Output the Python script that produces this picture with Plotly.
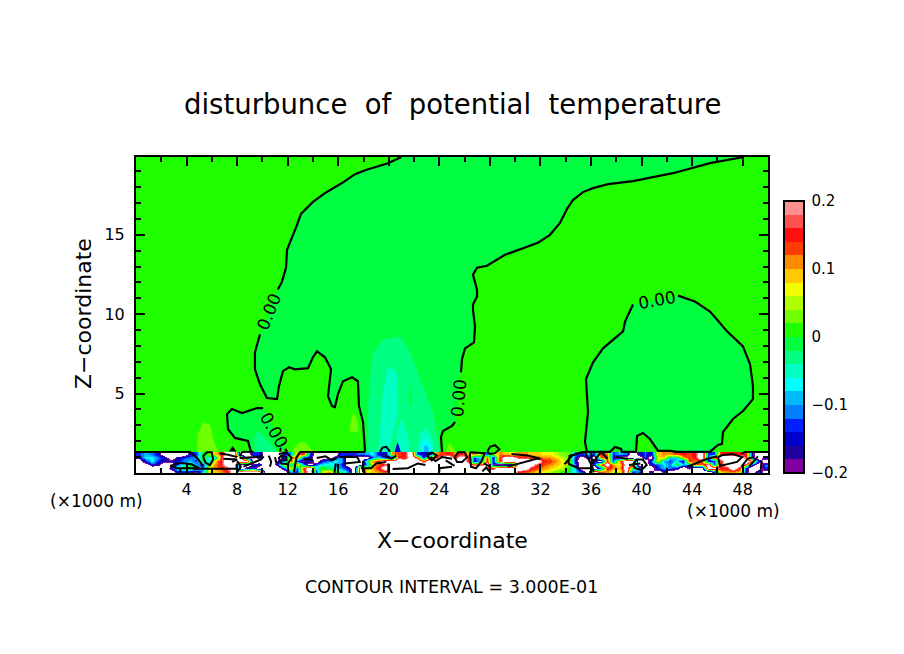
import plotly.graph_objects as go

# level colours, bottom of the colour bar to the top
level_colors = ['#8000A0', '#2000A0', '#0000CC', '#0020FF', '#0080FF', '#00BAFF', '#00FFFF', '#00FFC0',
                '#00FF80', '#00FF40', '#20FF00', '#70FF00', '#B0FF00', '#F0FF00', '#FFC800', '#FF8C00',
                '#FF3C00', '#FF1010', '#FF5050', '#FF9090']
level_codes = '0123456789ABCDEFGHIJ'

# near surface band, one character per 0.5 km cell, top row first, w = out of range (white)
band_rows = [
    '3542wwww239BEGwwww33 www25FH3wwww33345621 FGHw321FGHFHEFC3CFED FFEEDDCBB4353HF354w1 41EFFGHGHw33HHHHH1ww',
    '26642w1344A65Hwwwww3 www3GH21www35wwww461 wHGwH1GHwwHwH36H0Hww HHGGFFECB3w3wGH1wwww 3wDE65FGHw3HwwwwH1w3',
    'w36311245396EHwwwwww ww14H203w3465www9FHw wwwwwHwwwwwwH25H2Hww wwwwHGFDC2ww3wH3Fwww w3D5361HFH13HwwwwH2w',
    'ww31ww36852BFHwwww13 ww3G5H4w46753www5EGH wwwwwwwwwwwwwHHw0www wwwHGFEDB4ww2HwFDwww w2364A64HFw3HwwwH3w4',
    'wwwww27AA73DFGIww13w www4F3Hw6A8642wwBFHw wwwwwwwwwwwwwwwHHwww wwHGFEDCA5www3HFEwA6 ww3542w1wwwwHHwH2ww3',
    'wwwwww22105DEFHwwwww wwww52Gw3DFB84wwDEFG wwwwwwwwwwwwwwwwwwww HGFEDCBA963wwGFDCw34 w2w1wwwwwww2EFFE1w3w',
]

# zero contours, km
upper_a_x = [21.0, 19.94, 18.12, 17.33, 16.3, 14.95, 14.0, 13.05, 12.74, 12.26, 11.95, 11.87, 11.55, 11.23]
upper_a_y = [19.9, 19.51, 19.07, 18.82, 18.26, 17.63, 17.07, 16.32, 15.62, 14.69, 14.06, 12.93, 12.05, 11.55]
lower_a_x = [9.81, 9.41, 9.41, 9.81, 10.36, 11.16, 11.31, 11.63, 12.1, 12.58, 13.61, 14.0, 14.32, 14.95, 15.43,
             15.19, 15.51, 15.74, 15.98, 16.38, 17.09, 17.56, 17.64, 17.96, 18.12]
lower_a_y = [8.73, 7.6, 6.53, 5.59, 4.72, 4.65, 5.47, 6.41, 6.66, 6.53, 6.6, 7.29, 7.66, 7.29, 6.53,
             4.84, 4.21, 4.15, 4.97, 5.78, 6.03, 5.78, 4.21, 3.21, 1.33]
upper_b_x = [48.1, 45.41, 42.48, 39.32, 37.34, 36.16, 35.36, 34.57, 34.1, 33.54, 32.75, 31.8, 29.19, 27.77, 26.98,
             26.66, 26.98, 26.98, 26.66, 26.66, 26.82, 26.74, 26.03, 25.79, 25.71]
upper_b_y = [19.9, 19.51, 18.88, 18.38, 18.19, 17.94, 17.69, 17.19, 16.63, 15.75, 15.0, 14.5, 13.74, 13.05, 12.93,
             12.49, 11.55, 11.11, 10.61, 10.29, 9.23, 8.23, 7.85, 7.16, 6.34]
lower_b_x = [25.24, 25.0, 24.29, 24.13, 24.21]
lower_b_y = [3.21, 2.96, 2.65, 2.27, 1.33]
loop_x = [10.05, 9.57, 8.39, 7.59, 7.2, 7.28, 7.83, 8.86, 9.1]
loop_y = [4.09, 4.09, 3.77, 4.03, 3.71, 2.77, 2.21, 2.02, 1.33]
loop_end_x = [11.8, 11.95]
loop_end_y = [1.52, 1.33]
dome_left_x = [39.32, 38.69, 38.53, 36.95, 36.16, 35.6, 35.68, 35.76, 35.52, 35.68, 37.5, 37.9, 38.37, 38.45, 39.56,
               39.64, 40.11, 40.66, 41.3, 42.25, 42.8, 45.41, 46.04, 46.36, 46.44, 47.23, 48.02, 48.81, 48.81,
               48.58, 48.02, 46.76, 45.96, 45.41, 44.22, 42.88]
dome_left_y = [10.61, 9.54, 8.92, 7.85, 6.97, 5.91, 4.84, 3.84, 1.96, 1.33, 1.33, 1.64, 1.52, 1.33, 1.33,
               2.33, 2.52, 2.14, 1.39, 1.39, 1.33, 1.33, 1.77, 1.83, 2.58, 3.4, 3.9, 4.65, 5.47,
               6.85, 7.97, 8.92, 9.67, 10.17, 10.8, 11.17]

# shaded patches above the band, km
plume_x = [19.54, 20.89, 21.68, 22.47, 23.5, 23.89, 24.05, 18.28, 18.35, 18.51, 18.75]
plume_y = [8.41, 8.6, 7.66, 5.91, 3.84, 2.14, 1.33, 1.33, 4.21, 5.91, 7.6]
streak1_x = [19.54, 19.86, 20.09, 20.65, 20.73, 20.25, 19.94, 19.15, 19.38]
streak1_y = [5.09, 6.53, 6.72, 6.22, 3.84, 2.14, 1.33, 1.33, 3.4]
streak2_x = [21.04, 21.5, 21.68, 20.6, 20.65]
streak2_y = [3.4, 2.33, 1.33, 1.33, 2.77]
streak3_x = [23.02, 23.42, 23.65, 22.23, 22.47]
streak3_y = [2.83, 2.14, 1.33, 1.33, 2.46]
cyan_x = [22.86, 23.34, 23.4, 22.63, 22.55]
cyan_y = [2.2, 1.7, 1.33, 1.33, 1.83]
sky_x = [22.8, 22.75, 23.1, 23.2]
sky_y = [1.33, 1.7, 1.75, 1.33]
spike_x = [20.45, 20.7, 20.95]
spike_y = [1.33, 1.95, 1.33]
plume_gap_x = [21.6, 21.7, 21.85, 21.75]
plume_gap_y = [4.4, 5.6, 4.6, 4.2]
warm1_x = [4.83, 4.9, 5.3, 5.85, 6.09, 6.49]
warm1_y = [1.33, 2.46, 3.15, 3.08, 2.14, 1.33]
warm2_x = [16.9, 17.0, 17.2, 17.5, 17.6, 17.3]
warm2_y = [2.6, 3.3, 3.8, 3.4, 2.6, 2.6]
warm3_x = [12.3, 12.8, 13.3, 13.8, 14.1]
warm3_y = [1.33, 1.85, 1.95, 1.6, 1.33]
warm4_x = [24.5, 24.8, 25.3]
warm4_y = [1.33, 1.9, 1.33]
loop_patch_x = [9.57, 10.2, 11.16, 9.41, 9.34]
loop_patch_y = [2.65, 2.33, 1.33, 1.33, 2.14]
dome_patch_x = [44.3, 44.6, 45.0]
dome_patch_y = [1.33, 1.65, 1.33]
blob_x = [7.35, 7.65, 7.95]
blob_y = [1.35, 1.7, 1.35]

# contour scribble inside the band, None breaks the line
band_lines_x = [0, 4.27, 4.9, 5.3, None, 5.3, 5.6, 6.0, 6.1, 5.85, 5.5, 5.3, None, 2.7, 3.5, 4.4, 5.0, 4.4, 3.2, 2.7, None,
                3.5, 3.5, None, 4.5, 8.0, None, 8.4, 9.3, None, 8.4, 8.2, None, 6.6, 7.3, 8.0, None, 6.9, 8.0, 7.6, None,
                8.2, 9.5, 10.0, None, 8.5, 9.2, 9.9, 10.1, None, 8.0, 8.3, 8.0, None, 10.5, 10.7, 10.6, None, 11.0, 11.1, None,
                11.3, 11.9, 12.3, 12.0, 11.5, 11.3, 11.5, 11.9, 11.9, 11.6, None, 11.4, 11.45, None,
                12.5, 12.6, 12.7, 13.0, 13.5, 18.12, None, 13.3, 14.0, None, 14.3, 15.0, 15.5, 15.9, None,
                16.1, 17.5, 17.7, 16.5, None, 15.7, 15.8, None, 17.8, 18.6, 19.0, 19.8, None, 17.96, 17.96, None,
                19.96, 19.96, None, 19.7, 20.2, 20.6, None, 20.3, 21.5, 22.3, 22.9, None, 23.3, 23.7, 24.2, 25.0, None,
                24.0, 24.0, 25.0, None, 24.5, 25.2, None, 27.4, 27.7, 28.0, None, 28.0, 27.5, None,
                29.4, 31.7, 32.0, 31.0, 29.7, None, 33.9, 34.5, 35.3, 36.3, None,
                34.2, 34.3, 35.5, 36.1, 36.2, None, 34.2, 35.0, 36.1, None, 36.0, 36.1, 36.8, 37.3, None,
                38.0, 38.9, None, 39.0, 39.9, None, 39.3, 39.6, 40.1, 40.4, 40.0, 39.5, 39.3, None,
                43.6, 45.2, 46.0, None, 46.05, 46.2, 47.55, 47.95, 47.2, 46.45, 46.05, None,
                47.9, 48.4, 48.9, None, 48.5, 49.2, None, 49.4, 49.5, None, 45.9, 46.0, None, 47.9, 48.2, 50.0, None,
                19.3, 19.5, 19.8, 20.1, None, 27.8, 28.0, 28.4, 28.75, 28.4, 28.0, 27.8, None,
                25.2, 25.5, 26.0, 26.2, 25.8, 25.4, 25.2, None, 26.4, 27.6, 27.3, 26.9, 26.5, 26.4, 26.4, None,
                23.0, 23.4, 23.8, 23.4, 23.0]
band_lines_y = [1.33, 1.33, 0.89, 0.45, None, 1.05, 1.3, 1.3, 0.85, 0.5, 0.65, 1.05, None, 0.45, 0.65, 0.55, 0.3, 0.3, 0.3, 0.45, None,
                0.3, 0.05, None, 0.26, 0.26, None, 1.33, 1.33, None, 1.33, 1.05, None, 1.25, 1.15, 1.0, None, 0.9, 0.85, 0.7, None,
                0.95, 1.0, 1.1, None, 0.4, 0.6, 0.85, 1.05, None, 0.75, 0.4, 0.05, None, 1.1, 0.7, 0.4, None, 1.0, 0.6, None,
                1.2, 1.3, 0.95, 0.55, 0.6, 0.95, 1.1, 1.0, 0.8, 0.85, None, 1.33, 1.6, None,
                0.05, 0.5, 1.0, 1.33, 1.33, 1.33, None, 0.9, 0.8, None, 0.95, 1.05, 0.8, 0.95, None,
                1.0, 1.0, 0.7, 0.6, None, 0.0, 0.6, None, 0.3, 0.3, 0.6, 0.7, None, 0.76, 0.05, None,
                0.6, 0.05, None, 1.1, 0.9, 1.1, None, 0.25, 0.3, 0.6, 0.5, None, 1.0, 0.75, 1.0, 0.9, None,
                0.05, 0.3, 0.4, None, 0.8, 0.45, None, 0.1, 0.35, 0.05, None, 0.4, 0.6, None,
                0.4, 0.9, 0.9, 1.1, 1.2, None, 0.55, 1.1, 1.33, 1.33, None,
                0.58, 1.08, 1.33, 0.4, 0.05, None, 0.58, 0.3, 0.3, None, 1.33, 0.6, 1.33, 0.9, None,
                1.0, 0.9, None, 0.5, 0.6, None, 0.5, 0.85, 0.85, 0.5, 0.2, 0.3, 0.5, None,
                0.4, 0.9, 1.05, None, 1.0, 0.45, 0.7, 1.0, 1.2, 1.14, 1.0, None,
                0.4, 0.9, 1.0, None, 0.4, 1.05, None, 0.05, 0.8, None, 0.05, 0.4, None, 1.2, 1.33, 1.33, None,
                1.33, 1.6, 1.65, 1.33, None, 1.35, 1.65, 1.75, 1.5, 1.25, 1.2, 1.35, None,
                1.0, 1.3, 1.3, 1.0, 0.7, 0.7, 1.0, None, 1.3, 1.25, 0.7, 0.3, 0.4, 1.0, 1.3, None,
                1.1, 1.3, 1.1, 0.8, 1.1]

x_ticks = [4, 8, 12, 16, 20, 24, 28, 32, 36, 40, 44, 48]
y_ticks = [5, 10, 15]
bar_ticks = [-0.2, -0.1, 0, 0.1, 0.2]
bar_labels = ['\u22120.2', '\u22120.1', '0', '0.1', '0.2']
font_name = 'DejaVu Sans'

def stepped_scale(colors):
    scale = []
    for i, color in enumerate(colors):
        scale += [[i / len(colors), color], [(i + 1) / len(colors), color]]
    return scale

def decode_row(row):
    # white cells lie beyond the colour range, on the side of the nearest coloured cell
    row = row.replace(' ', '')
    values = []
    for i, c in enumerate(row):
        if c != 'w':
            values.append(-0.19 + 0.02 * level_codes.index(c))
            continue
        near = min((j for j, o in enumerate(row) if o != 'w'), key=lambda j: abs(j - i))
        values.append(0.26 if level_codes.index(row[near]) >= 10 else -0.26)
    return values

fig = go.Figure()

# band field, two extra white levels at each end hold the out of range cells
fig.add_trace(go.Heatmap(
    z=[decode_row(r) for r in reversed(band_rows)],
    x0=0.25, dx=0.5, y0=0.1083, dy=0.2217, zsmooth='best',
    zmin=-0.24, zmax=0.24, colorscale=stepped_scale(['white', 'white'] + level_colors + ['white', 'white']),
    showscale=False,
))

# colour bar only
fig.add_trace(go.Scatter(
    x=[None], y=[None], mode='markers', showlegend=False, hoverinfo='skip',
    marker=dict(
        color=[0], cmin=-0.2, cmax=0.2, colorscale=stepped_scale(level_colors), showscale=True,
        colorbar=dict(
            x=(784 - 136) / 632, xanchor='left', y=0, yanchor='bottom', xpad=0, ypad=0,
            thicknessmode='pixels', thickness=20, lenmode='pixels', len=272,
            outlinecolor='black', outlinewidth=2, ticks='outside', ticklen=4, tickcolor='white',
            tickmode='array', tickvals=bar_ticks, ticktext=bar_labels,
            tickfont=dict(family=font_name, size=15, color='black'),
        ),
    ),
))

def add_patch(xs, ys, level):
    fig.add_trace(go.Scatter(x=xs, y=ys, mode='lines', fill='toself', fillcolor=level_colors[level],
                             line=dict(width=0), showlegend=False, hoverinfo='skip'))

def add_line(xs, ys, width=2.2):
    fig.add_trace(go.Scatter(x=xs, y=ys, mode='lines', line=dict(color='black', width=width),
                             showlegend=False, hoverinfo='skip', connectgaps=False))

# region with values just below zero
add_patch(upper_a_x + lower_a_x + lower_b_x[::-1] + upper_b_x[::-1],
          upper_a_y + lower_a_y + lower_b_y[::-1] + upper_b_y[::-1], 9)
add_patch(loop_x + loop_end_x, loop_y + loop_end_y, 9)
add_patch(dome_left_x, dome_left_y, 9)

add_patch(warm1_x, warm1_y, 11)
add_patch(warm2_x, warm2_y, 11)
add_patch(warm3_x, warm3_y, 11)
add_patch(warm4_x, warm4_y, 11)
add_patch(plume_x, plume_y, 8)
add_patch(plume_gap_x, plume_gap_y, 9)
add_patch(streak1_x, streak1_y, 7)
add_patch(streak2_x, streak2_y, 7)
add_patch(streak3_x, streak3_y, 7)
add_patch(cyan_x, cyan_y, 6)
add_patch(sky_x, sky_y, 5)
add_patch(spike_x, spike_y, 2)
add_patch(loop_patch_x, loop_patch_y, 8)
add_patch(dome_patch_x, dome_patch_y, 8)

add_line(upper_a_x, upper_a_y)
add_line(lower_a_x, lower_a_y)
add_line(upper_b_x, upper_b_y)
add_line(lower_b_x, lower_b_y)
add_line(loop_x, loop_y)
add_line(loop_end_x, loop_end_y)
add_line(dome_left_x, dome_left_y)
add_line(band_lines_x, band_lines_y, width=2)
add_patch(blob_x, blob_y, 0)
fig.data[-1].fillcolor = 'black'

contour_labels = [(10.5, 10.15, -68), (10.9, 2.71, 60), (25.5, 4.75, -85), (41.2, 10.92, -10)]
for cx, cy, angle in contour_labels:
    fig.add_annotation(x=cx, y=cy, text='0.00', textangle=angle, showarrow=False,
                       font=dict(family=font_name, size=17, color='black'))

def add_text(text, px, py, size, angle=0):
    fig.add_annotation(x=(px - 136) / 632, y=(473 - py) / 316, xref='paper', yref='paper', text=text,
                       xanchor='center', yanchor='middle', textangle=angle, showarrow=False,
                       font=dict(family=font_name, size=size, color='black'))

add_text('disturbunce  of  potential  temperature', 452, 104, 27.5)
add_text('Z\u2212coordinate', 83, 314, 22, -90)
add_text('X\u2212coordinate', 452, 540, 22)
add_text('CONTOUR INTERVAL = 3.000E-01', 451, 587, 17.5)
add_text('(\u00d71000 m)', 96, 501, 17)
add_text('(\u00d71000 m)', 733, 511, 17)

axis_style = dict(showgrid=False, zeroline=False, showline=True, linecolor='black', linewidth=2, mirror='ticks',
                  ticks='inside', ticklen=9, tickwidth=2, tickcolor='black', tickmode='array',
                  tickfont=dict(family=font_name, size=16, color='black'))

fig.update_xaxes(range=[0, 50], tickvals=x_ticks, ticklabelstandoff=1,
                 minor=dict(tickmode='linear', tick0=0, dtick=2, ticks='inside', ticklen=5, tickwidth=1.5, tickcolor='black'),
                 **axis_style)
fig.update_yaxes(range=[0, 19.9], tickvals=y_ticks, ticklabelstandoff=6,
                 minor=dict(tickmode='linear', tick0=0, dtick=1, ticks='inside', ticklen=5, tickwidth=1.5, tickcolor='black'),
                 **axis_style)

fig.update_layout(
    width=904, height=654, autosize=False,
    margin=dict(l=136, r=136, t=157, b=181),
    paper_bgcolor='white', plot_bgcolor=level_colors[10],
    showlegend=False,
)

fig.write_html("out.html", config={'displayModeBar': False}, post_script="document.body.style.margin = '0';")
